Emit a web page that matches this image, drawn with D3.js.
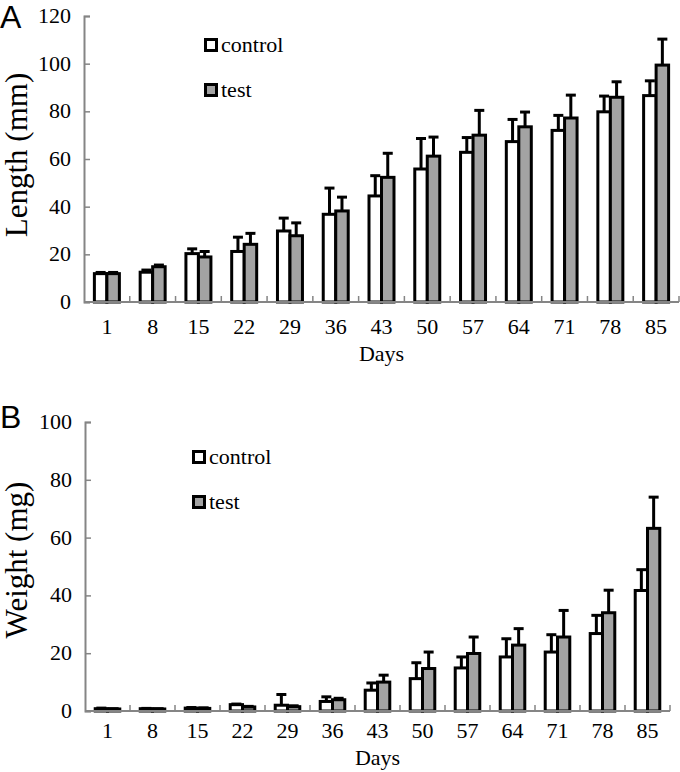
<!DOCTYPE html>
<html>
<head>
<meta charset="utf-8">
<script src="https://cdn.jsdelivr.net/npm/d3@7"></script>
<style>
  html, body { margin: 0; padding: 0; background: #fff; }
  svg { display: block; }
</style>
</head>
<body>
<svg id="chart" width="680" height="772"></svg>
<script>
// ---------- data ----------
const days = ["1", "8", "15", "22", "29", "36", "43", "50", "57", "64", "71", "78", "85"];
const seriesNames = ["control", "test"];

// Panel A: Length (mm)
const lengthControl = [11.9, 12.5, 20.3, 21.2, 29.8, 36.8, 44.5, 55.8, 62.8, 67.3, 72.0, 79.8, 86.6];
const lengthTest    = [11.9, 14.8, 18.9, 24.2, 27.8, 38.2, 52.3, 61.2, 70.0, 73.5, 77.2, 85.9, 99.4];
const lengthControlErr = [0.5, 0.9, 2.0, 6.0, 5.4, 11.0, 8.5, 12.8, 6.2, 9.3, 6.3, 6.6, 6.2];
const lengthTestErr    = [0.5, 0.7, 2.3, 4.6, 5.4, 5.8, 10.1, 8.0, 10.4, 6.2, 9.6, 6.5, 10.9];
const lengthTicks = [0, 20, 40, 60, 80, 100, 120];

// Panel B: Weight (mg)
const weightControl = [0.8, 0.8, 1.0, 2.2, 2.0, 3.3, 7.2, 11.2, 14.9, 18.7, 20.4, 26.8, 41.7];
const weightTest    = [0.7, 0.7, 0.9, 1.4, 1.5, 3.9, 10.0, 14.7, 19.9, 22.8, 25.6, 34.0, 63.2];
const weightControlErr = [0.2, 0.1, 0.2, 0.2, 3.7, 1.6, 2.5, 5.5, 3.8, 6.3, 6.0, 6.3, 7.2];
const weightTestErr    = [0.1, 0.1, 0.2, 0.2, 0.3, 0.5, 2.4, 5.7, 5.7, 5.7, 9.2, 7.8, 10.8];
const weightTicks = [0, 20, 40, 60, 80, 100];

// ---------- drawing ----------
const svg = d3.select("#chart");
const serif = "'Liberation Serif', 'Times New Roman', serif";
const sans = "'Liberation Sans', Arial, sans-serif";
const axisColor = "#858585";
const fills = { control: "#ffffff", test: "#a3a3a3" };

function drawPanel(cfg) {
  const g = svg.append("g");
  const x0 = d3.scaleBand().domain(days).range([cfg.left, cfg.right]).padding(0);
  const bw = x0.bandwidth();
  const x1 = d3.scaleBand().domain(seriesNames).range([bw * 0.227, bw * 0.773]).padding(0);
  const y = d3.scaleLinear().domain([0, cfg.max]).range([cfg.bottom, cfg.top]);

  const rows = days.map((d, i) => ({
    day: d,
    vals: seriesNames.map((s, j) => ({
      series: s,
      v: cfg.values[j][i],
      e: cfg.errs[j][i]
    }))
  }));

  const groups = g.selectAll("g.grp").data(rows).enter().append("g")
    .attr("transform", d => `translate(${x0(d.day)},0)`);

  // error bars (upper only)
  groups.selectAll("line.err").data(d => d.vals).enter().append("line")
    .attr("x1", d => x1(d.series) + x1.bandwidth() / 2)
    .attr("x2", d => x1(d.series) + x1.bandwidth() / 2)
    .attr("y1", d => y(d.v))
    .attr("y2", d => y(d.v + d.e))
    .attr("stroke", "#000").attr("stroke-width", 3);
  groups.selectAll("line.cap").data(d => d.vals).enter().append("line")
    .attr("x1", d => x1(d.series) + x1.bandwidth() / 2 - 5)
    .attr("x2", d => x1(d.series) + x1.bandwidth() / 2 + 5)
    .attr("y1", d => y(d.v + d.e))
    .attr("y2", d => y(d.v + d.e))
    .attr("stroke", "#000").attr("stroke-width", 3);

  // bars
  groups.selectAll("rect").data(d => d.vals).enter().append("rect")
    .attr("x", d => x1(d.series))
    .attr("y", d => y(d.v))
    .attr("width", x1.bandwidth())
    .attr("height", d => y(0) - y(d.v))
    .attr("fill", d => fills[d.series])
    .attr("stroke", "#000").attr("stroke-width", 3);

  // y axis
  const yAxis = d3.axisRight(y).tickValues(cfg.ticks).tickSize(6).tickFormat("");
  const ya = g.append("g").attr("transform", `translate(${cfg.left},0)`).call(yAxis);
  ya.selectAll("path").attr("stroke", axisColor).attr("stroke-width", 2);
  ya.selectAll("line").attr("stroke", axisColor).attr("stroke-width", 1.5);
  g.selectAll("text.ytl").data(cfg.ticks).enter().append("text")
    .attr("x", cfg.left - 13).attr("y", d => y(d) + 7)
    .attr("text-anchor", "end")
    .attr("font-family", serif).attr("font-size", 22)
    .text(d => d);

  // x axis
  const xEdge = d3.scaleLinear().domain([0, days.length]).range([cfg.left, cfg.right]);
  g.append("line")
    .attr("x1", cfg.left).attr("x2", cfg.right)
    .attr("y1", cfg.bottom).attr("y2", cfg.bottom)
    .attr("stroke", axisColor).attr("stroke-width", 2);
  g.selectAll("line.xt").data(d3.range(1, days.length + 1)).enter().append("line")
    .attr("x1", d => xEdge(d)).attr("x2", d => xEdge(d))
    .attr("y1", cfg.bottom).attr("y2", cfg.bottom - 6)
    .attr("stroke", axisColor).attr("stroke-width", 1.5);
  g.selectAll("text.xtl").data(days).enter().append("text")
    .attr("x", d => x0(d) + bw / 2).attr("y", cfg.xLabelY)
    .attr("text-anchor", "middle")
    .attr("font-family", serif).attr("font-size", 22)
    .text(d => d);

  // axis titles
  g.append("text")
    .attr("x", (cfg.left + cfg.right) / 2).attr("y", cfg.xTitleY)
    .attr("text-anchor", "middle")
    .attr("font-family", serif).attr("font-size", 22)
    .text("Days");
  g.append("text")
    .attr("transform", `translate(${cfg.yTitleX},${cfg.yTitleY}) rotate(-90)`)
    .attr("text-anchor", "middle")
    .attr("font-family", serif).attr("font-size", 31)
    .text(cfg.yTitle);

  // panel letter
  g.append("text")
    .attr("x", 0).attr("y", cfg.letterY)
    .attr("font-family", sans).attr("font-size", cfg.letterSize)
    .text(cfg.letter);

  // legend
  const leg = g.selectAll("g.leg").data(seriesNames).enter().append("g")
    .attr("transform", (d, i) => `translate(${cfg.legX},${cfg.legY + i * 45})`);
  leg.append("rect")
    .attr("x", 1.5).attr("y", -5.5).attr("width", 11).attr("height", 11)
    .attr("fill", d => fills[d]).attr("stroke", "#000").attr("stroke-width", 3);
  leg.append("text")
    .attr("x", 17).attr("y", 7)
    .attr("font-family", serif).attr("font-size", 22)
    .text(d => d);
}

drawPanel({
  left: 84, right: 679, top: 16, bottom: 302, max: 120,
  ticks: lengthTicks,
  values: [lengthControl, lengthTest],
  errs: [lengthControlErr, lengthTestErr],
  xLabelY: 334, xTitleY: 361,
  yTitle: "Length (mm)", yTitleX: 27, yTitleY: 155,
  letter: "A", letterY: 28, letterSize: 32,
  legX: 204, legY: 45
});

drawPanel({
  left: 85, right: 670, top: 422, bottom: 711, max: 100,
  ticks: weightTicks,
  values: [weightControl, weightTest],
  errs: [weightControlErr, weightTestErr],
  xLabelY: 738, xTitleY: 765,
  yTitle: "Weight (mg)", yTitleX: 27, yTitleY: 560,
  letter: "B", letterY: 428, letterSize: 32,
  legX: 192, legY: 457
});
</script>
</body>
</html>
